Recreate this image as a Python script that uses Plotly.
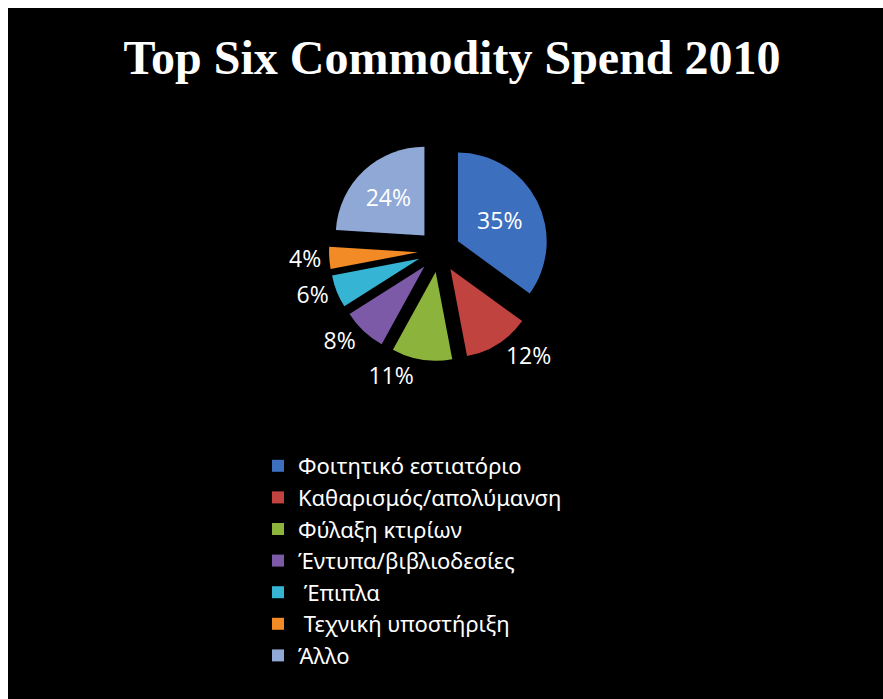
import plotly.graph_objects as go

# Commodity spend shares, 2010
labels = [
    "Φοιτητικό εστιατόριο",
    "Καθαρισμός/απολύμανση",
    "Φύλαξη κτιρίων",
    "Έντυπα/βιβλιοδεσίες",
    " Έπιπλα",
    " Τεχνική υποστήριξη",
    "Άλλο",
]
values = [35, 12, 11, 8, 6, 4, 24]
colors = ["#3d6fbf", "#c0433f", "#8cb43c", "#7c5aa8", "#35b4d4", "#f28a26", "#8fa8d6"]
text_pos = ["inside", "outside", "outside", "outside", "outside", "outside", "inside"]

W, H = 883, 699

fig = go.Figure(
    go.Pie(
        labels=labels,
        values=values,
        sort=False,
        direction="clockwise",
        rotation=0,
        pull=[0.24] * len(values),
        marker=dict(colors=colors, line=dict(width=0)),
        textinfo="percent",
        textposition=text_pos,
        insidetextfont=dict(family="Open Sans", size=23, color="white"),
        outsidetextfont=dict(family="Open Sans", size=23, color="white"),
        insidetextorientation="horizontal",
        domain=dict(x=[329 / W, 549 / W], y=[338 / H, 558 / H]),
        hoverinfo="label+percent",
    )
)

fig.update_layout(
    width=W,
    height=H,
    margin=dict(l=0, r=0, t=0, b=0),
    paper_bgcolor="white",
    title=dict(
        text="<b>Top Six Commodity Spend 2010</b>",
        x=452 / W,
        xanchor="center",
        y=1 - 57 / H,
        yanchor="middle",
        font=dict(family="Liberation Serif", size=48, color="white"),
    ),
    legend=dict(
        x=258 / W,
        xanchor="left",
        y=1 - 445 / H,
        yanchor="top",
        bgcolor="rgba(0,0,0,0)",
        font=dict(family="Noto Sans", size=22, color="white"),
        itemwidth=30,
    ),
    shapes=[
        dict(
            type="rect",
            xref="paper",
            yref="paper",
            x0=8 / W,
            x1=1,
            y0=0,
            y1=1 - 8 / H,
            fillcolor="black",
            line=dict(width=0),
            layer="below",
        )
    ],
)

fig.write_html("out.html")
